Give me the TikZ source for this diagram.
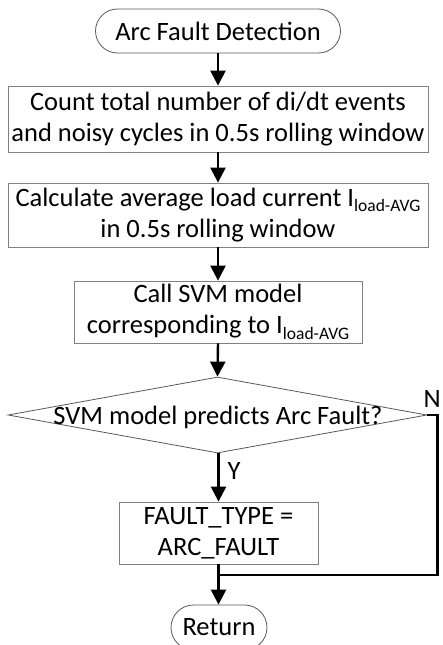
\documentclass[tikz,border=0pt]{standalone}
\usepackage{fontspec}
\setmainfont{Carlito}
\usetikzlibrary{arrows.meta,shapes.geometric,shapes.misc}
\definecolor{boxgray}{gray}{0.5}
\definecolor{edgegray}{gray}{0.35}
% subscripted load current symbol
\newcommand{\iloadavg}{I\raisebox{-0.2em}{\fontsize{17.5}{17.5}\selectfont load-AVG}}

\begin{document}
\begin{tikzpicture}[x=1pt,y=-1pt,
  every node/.style={font=\fontsize{26.5}{31}\selectfont, text=black},
  procbox/.style={draw=boxgray, line width=0.8pt, rectangle, inner sep=0pt, align=center},
  termbox/.style={draw=edgegray, line width=0.8pt, rounded rectangle, inner sep=0pt, minimum height=44pt},
  decbox/.style={draw=edgegray, line width=0.8pt, diamond, inner sep=0pt},
  flow/.style={line width=2.4pt, -{Triangle[width=15pt,length=15pt]}},
  wire/.style={line width=2.4pt}
]
\useasboundingbox (0,0) rectangle (442,645);
\clip (0,0) rectangle (442,645);

% terminals and process steps
\node[termbox, minimum width=245pt] (start) at (218,31) {Arc Fault Detection};
\node[procbox, minimum width=420pt, minimum height=66pt] (count) at (218,119)
  {Count total number of di/dt events\\and noisy cycles in 0.5s rolling window};
\node[procbox, minimum width=420pt, minimum height=64pt] (avg) at (218,215)
  {Calculate average load current \iloadavg\\in 0.5s rolling window};
\node[procbox, minimum width=288pt, minimum height=62pt] (svm) at (218,312)
  {Call SVM model\\corresponding to \iloadavg};

% decision
\node[decbox, minimum width=419pt, minimum height=76pt] (dec) at (217.5,415) {};
\node[inner sep=0pt] (dectext) at (218,417) {SVM model predicts Arc Fault?};

\node[procbox, minimum width=199pt, minimum height=62pt] (fault) at (218.5,533)
  {FAULT\_TYPE =\\ARC\_FAULT};
\node[termbox, minimum width=96pt, minimum height=45pt] (ret) at (219,627.5) {Return};

\coordinate (merge) at (218.5,575);

% connectors
\draw[flow] (start.south) -- (count.north);
\draw[flow] (count.south -| avg.north) -- (avg.north);
\draw[flow] (avg.south) -- (svm.north);
\draw[flow] (svm.south) -- (dec.north);
\draw[flow] (dec.south -| fault.north) -- (fault.north)
  node[pos=0.37, right=8pt, inner sep=0pt] {Y};
\draw[wire] (dec.east) -- ++(10,0)
  node[anchor=south east, inner sep=0pt, xshift=4.5pt, yshift=6pt] {N}
  |- (merge);
\draw[wire] (fault.south) -- (merge);
\draw[flow] (merge) -- (merge |- ret.north);
\end{tikzpicture}
\end{document}
